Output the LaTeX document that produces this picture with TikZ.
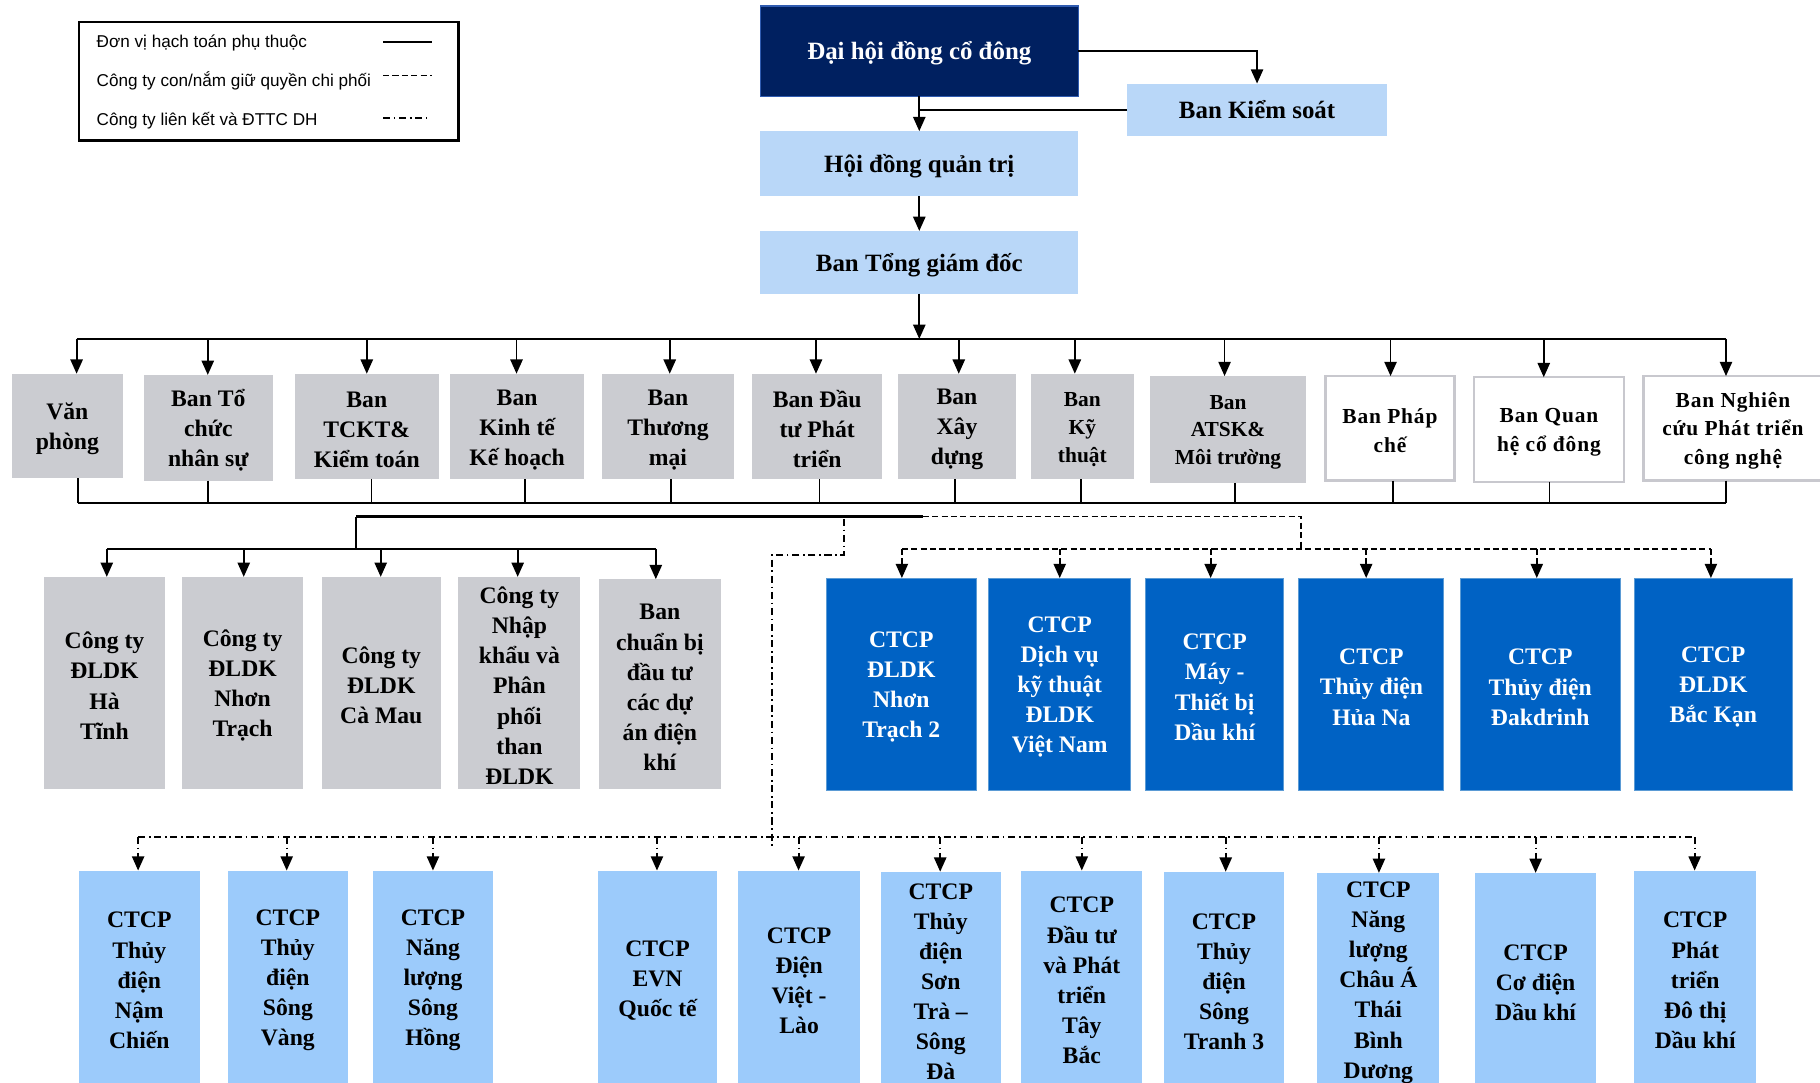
\documentclass[tikz,border=0pt]{standalone}
\usepackage{fontspec}
\setmainfont{Liberation Serif}
\setsansfont{Liberation Sans}
\usetikzlibrary{arrows.meta}
\definecolor{navy}{HTML}{002060}
\definecolor{navyedge}{HTML}{2F5BB0}
\definecolor{lblue}{HTML}{B9D7F8}
\definecolor{gry}{HTML}{CBCCD1}
\definecolor{mblue}{HTML}{0062C4}
\definecolor{mblueedge}{HTML}{5B9BD5}
\definecolor{sblue}{HTML}{9CCBFB}
\definecolor{wedge}{HTML}{C8C8CE}
\newcommand{\mystrut}{\rule{0pt}{0.92em}}
\begin{document}
\begin{tikzpicture}[x=0.02cm,y=-0.02cm,
  sz/.style 2 args={minimum width={#1*0.02cm},minimum height={#2*0.02cm}},
  base/.style={inner sep=0pt,outer sep=0pt,align=center,font=\bfseries\fontsize{11.6}{14.74}\selectfont},
  onel/.style={execute at begin node={\rule{0pt}{1em}},execute at end node={\rule[-0.3em]{0pt}{0pt}}},
  bigf/.style={font=\bfseries\fontsize{12.2}{14.7}\selectfont},
  smallf/.style={font=\bfseries\fontsize{10.5}{13.6}\selectfont},
  wf/.style={font=\bfseries\fontsize{10.5}{14}\selectfont\addfontfeatures{LetterSpace=4}},
  dhbox/.style={base,onel,bigf,fill=navy,draw=navyedge,line width=0.7pt,text=white},
  topbox/.style={base,onel,bigf,fill=lblue},
  gbox/.style={base,fill=gry},
  wbox/.style={base,wf,fill=white,draw=wedge,line width=1.1pt},
  bbox/.style={base,fill=mblue,draw=mblueedge,line width=0.5pt,text=white},
  sbox/.style={base,fill=sblue},
  ln/.style={line width=0.9pt,black},
  tip/.style={-{Triangle[length=7pt,width=6pt]}},
  arr/.style={ln,tip},
  dsh/.style={ln,dash pattern=on 3pt off 1.6pt},
  dd/.style={ln,dash pattern=on 3.5pt off 1.8pt on 0.8pt off 1.8pt},
  legtxt/.style={inner sep=0pt,anchor=west,font=\sffamily\fontsize{8.4}{10}\selectfont}
]
\useasboundingbox (0,0) rectangle (1568,933);
\clip (0,0) rectangle (1568,933);

% ---------- legend ----------
\node[draw,line width=1.2pt,inner sep=0pt,sz={327}{102}] (leg) at (231.5,70) {};
\node[legtxt] (l1) at (83,37) {Đơn vị hạch toán phụ thuộc};
\node[legtxt] (l2) at (83,70) {Công ty con/nắm giữ quyền chi phối};
\node[legtxt] (l3) at (83,104) {Công ty liên kết và ĐTTC DH};
\draw[ln] (330,36) -- (372,36);
\draw[dsh] (330,65) -- (372,65);
\draw[dd] (330,102) -- (368,102);

% ---------- top ----------
\node[dhbox,sz={274}{78}] (dh) at (792,44) {Đại hội đồng cổ đông};
\node[topbox,sz={224}{45}] (bks) at (1083,94.5) {Ban Kiểm soát};
\node[topbox,sz={274}{56}] (hdqt) at (792,141) {Hội đồng quản trị};
\node[topbox,sz={274}{54}] (btgd) at (792,226) {Ban Tổng giám đốc};

\draw[arr] (dh.east) -| (bks.north);
\draw[arr] (dh.south) -- (hdqt.north);
\draw[ln] (bks.west) -- (bks.west -| dh.south);
\draw[arr] (hdqt.south) -- (btgd.north);
\coordinate (busT) at (792,292);
\coordinate (busTL) at (66,292);
\coordinate (busTR) at (1487,292);
\draw[arr] (btgd.south) -- (busT);
\draw[ln] (busTL) -- (busTR);

% ---------- row 2 ----------
\node[gbox,sz={96}{90}] (vp) at (58,367) {\mystrut Văn\\phòng};
\node[gbox,sz={111}{91}] (tc) at (179.5,368.5) {\mystrut Ban Tổ\\chức\\nhân sự};
\node[gbox,sz={124}{91}] (tckt) at (316,367.5) {\mystrut Ban\\TCKT\&\\Kiểm toán};
\node[gbox,sz={115}{91}] (ktkh) at (445.5,367.5) {\mystrut Ban\\Kinh tế\\Kế hoạch};
\node[gbox,sz={113}{91}] (tm) at (575.5,367.5) {\mystrut Ban\\Thương\\mại};
\node[gbox,sz={112}{91}] (dt) at (704,367.5) {\mystrut Ban Đầu\\tư Phát\\triển};
\node[gbox,sz={101}{91}] (xd) at (824.5,367.5) {\mystrut Ban\\Xây\\dựng};
\node[gbox,smallf,sz={89}{91}] (kt) at (932.5,367.5) {\mystrut Ban\\Kỹ\\thuật};
\node[gbox,smallf,sz={134}{92}] (atsk) at (1058,370) {\mystrut Ban\\ATSK\&\\Môi trường};
\node[wbox,sz={111}{90}] (pc) at (1197.5,369) {\mystrut Ban Pháp\\chế};
\node[wbox,sz={129}{90}] (qh) at (1334.5,370) {\mystrut Ban Quan\\hệ cổ đông};
\node[wbox,sz={154}{90}] (nc) at (1493,369) {\mystrut Ban Nghiên\\cứu Phát triển\\công nghệ};

\foreach \n/\a/\b in {vp/66/67,tc/179/179,tckt/316/320,ktkh/445/452,tm/577/578,dt/703/706,xd/826/823,kt/926/931,atsk/1055/1064,pc/1198/1200,qh/1330/1335,nc/1487/1487}{
  \draw[arr] (\a,292) -- (\a,292 |- \n.north);
  \draw[ln] (\b,433 |- \n.south) -- (\b,433);
}
\coordinate (busBL) at (67,433);
\coordinate (busBR) at (1487,433);
\draw[ln] (busBL) -- (busBR);

% ---------- second trunk ----------
\coordinate (trA) at (307,445);
\coordinate (trB) at (795,445);
\coordinate (trC) at (1121,445);
\coordinate (trD) at (1121,473);
\coordinate (trE) at (727,447);
\draw[line width=1.4pt] (trA) -- (trB);
\draw[dsh] (trB) -- (trC) -- (trD);

% ---------- row 3 grey ----------
\node[gbox,sz={104}{183}] (ht) at (90,588.5) {\mystrut Công ty\\ĐLDK\\Hà\\Tĩnh};
\node[gbox,sz={104}{183}] (nt) at (209,588.5) {\mystrut Công ty\\ĐLDK\\Nhơn\\Trạch};
\node[gbox,sz={103}{183}] (cm) at (328.5,588.5) {\mystrut Công ty\\ĐLDK\\Cà Mau};
\node[gbox,sz={105}{183}] (nk) at (447.5,588.5) {\mystrut Công ty\\Nhập\\khẩu và\\Phân\\phối\\than\\ĐLDK};
\node[gbox,sz={105}{181}] (cb) at (568.5,589.5) {\mystrut Ban\\chuẩn bị\\đầu tư\\các dự\\án điện\\khí};

\coordinate (gbus) at (307,473);
\draw[ln] (trA) -- (gbus);
\draw[ln] (92,473) -- (565,473);
\foreach \n/\a in {ht/92,nt/210,cm/328,nk/446,cb/565}{
  \draw[arr] (\a,473) -- (\a,473 |- \n.north);
}

% ---------- row 3 blue ----------
\node[bbox,sz={129}{183}] (nt2) at (776.5,589.5) {\mystrut CTCP\\ĐLDK\\Nhơn\\Trạch 2};
\node[bbox,sz={122}{183}] (dv) at (913,589.5) {\mystrut CTCP\\Dịch vụ\\kỹ thuật\\ĐLDK\\Việt Nam};
\node[bbox,sz={119}{183}] (may) at (1046.5,589.5) {\mystrut CTCP\\Máy -\\Thiết bị\\Dầu khí};
\node[bbox,sz={125}{183}] (hn) at (1181.5,589.5) {\mystrut CTCP\\Thủy điện\\Hủa Na};
\node[bbox,sz={138}{183}] (dak) at (1327,589.5) {\mystrut CTCP\\Thủy điện\\Đakdrinh};
\node[bbox,sz={136}{183}] (bk) at (1476,589.5) {\mystrut CTCP\\ĐLDK\\Bắc Kạn};

\draw[dsh] (777,473) -- (1474,473);
\foreach \n/\a in {nt2/777,dv/913,may/1043,hn/1177,dak/1324,bk/1474}{
  \draw[dsh,tip] (\a,473) -- (\a,473 |- \n.north);
}

% ---------- row 4 ----------
\node[sbox,sz={104}{184}] (nch) at (120,842) {\mystrut CTCP\\Thủy\\điện\\Nậm\\Chiến};
\node[sbox,sz={104}{184}] (sv) at (248,842) {\mystrut CTCP\\Thủy\\điện\\Sông\\Vàng};
\node[sbox,sz={104}{184}] (sh) at (373,842) {\mystrut CTCP\\Năng\\lượng\\Sông\\Hồng};
\node[sbox,sz={103}{184}] (evn) at (566.5,842) {\mystrut CTCP\\EVN\\Quốc tế};
\node[sbox,sz={105}{184}] (vl) at (688.5,842) {\mystrut CTCP\\Điện\\Việt -\\Lào};
\node[sbox,sz={103}{184}] (st) at (810.5,843) {\mystrut CTCP\\Thủy\\điện\\Sơn\\Trà –\\Sông\\Đà};
\node[sbox,sz={104}{184}] (tb) at (932,842) {\mystrut CTCP\\Đầu tư\\và Phát\\triển\\Tây\\Bắc};
\node[sbox,sz={103}{184}] (st3) at (1054.5,843) {\mystrut CTCP\\Thủy\\điện\\Sông\\Tranh 3};
\node[sbox,sz={105}{184}] (ca) at (1187.5,844) {\mystrut CTCP\\Năng\\lượng\\Châu Á\\Thái\\Bình\\Dương};
\node[sbox,sz={104}{184}] (cd) at (1323,844) {\mystrut CTCP\\Cơ điện\\Dầu khí};
\node[sbox,sz={105}{184}] (dtdk) at (1460.5,842) {\mystrut CTCP\\Phát\\triển\\Đô thị\\Dầu khí};

\coordinate (ddA) at (727,478);
\coordinate (ddB) at (665,478);
\coordinate (ddC) at (665,729);
\draw[dd] (trE) -- (ddA) -- (ddB) -- (ddC);
\draw[dd] (119,721) -- (1460,721);
\foreach \n/\a in {nch/119,sv/247,sh/373,evn/566,vl/688,st/810,tb/932,st3/1056,ca/1188,cd/1323,dtdk/1460}{
  \draw[dd,tip] (\a,721) -- (\a,721 |- \n.north);
}
\end{tikzpicture}
\end{document}
